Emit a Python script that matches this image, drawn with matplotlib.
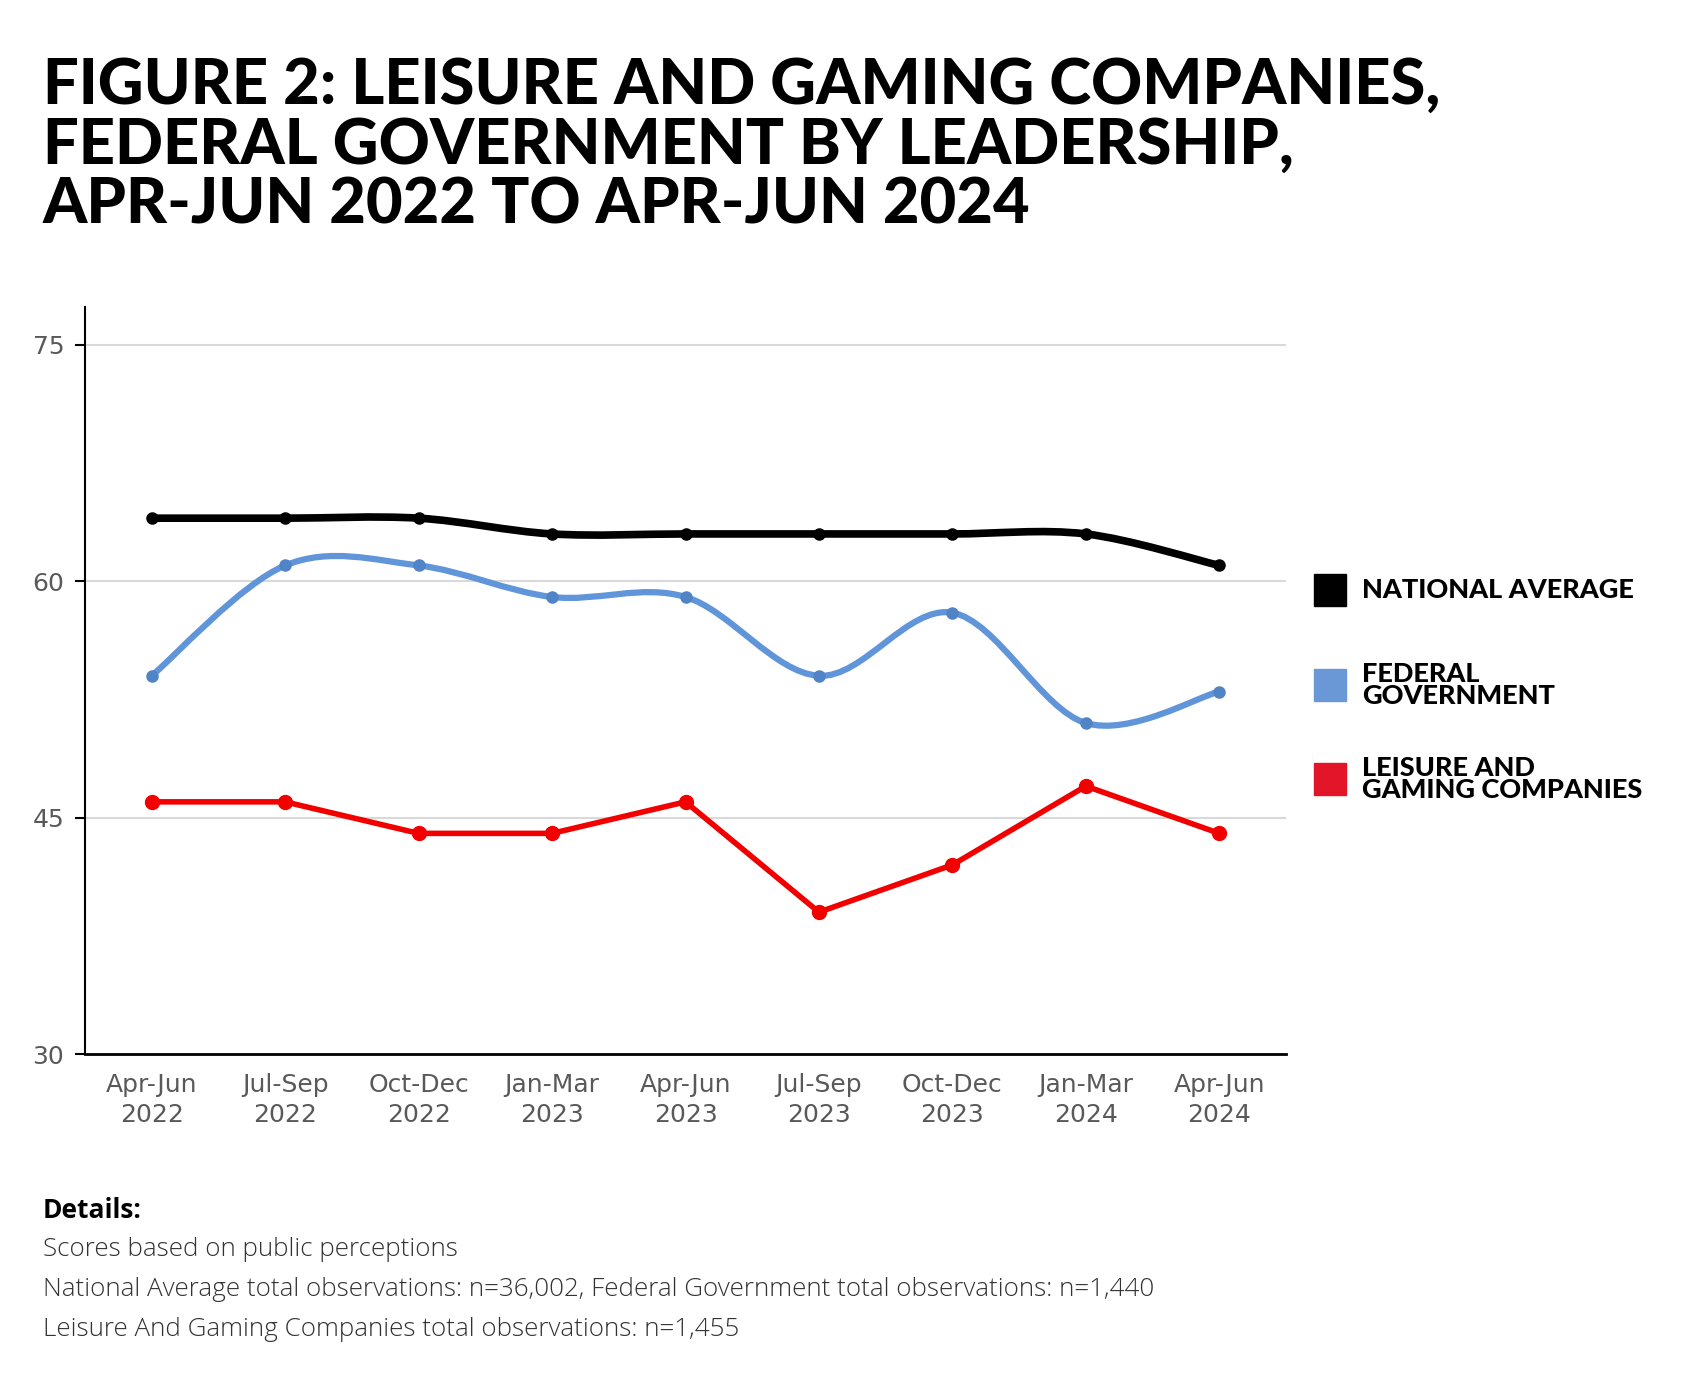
import numpy as np
import matplotlib
matplotlib.use('Agg')
from matplotlib import pyplot as plt
from matplotlib.path import Path
from matplotlib.patches import PathPatch

# data
periods = ['Apr-Jun\n2022', 'Jul-Sep\n2022', 'Oct-Dec\n2022', 'Jan-Mar\n2023', 'Apr-Jun\n2023',
           'Jul-Sep\n2023', 'Oct-Dec\n2023', 'Jan-Mar\n2024', 'Apr-Jun\n2024']
national = [64, 64, 64, 63, 63, 63, 63, 63, 61]
federal = [54, 61, 61, 59, 59, 54, 58, 51, 53]
leisure = [46, 46, 44, 44, 46, 39, 42, 47, 44]

y_ticks = [30, 45, 60, 75]
title_lines = ['FIGURE 2: LEISURE AND GAMING COMPANIES,',
               'FEDERAL GOVERNMENT BY LEADERSHIP,',
               'APR-JUN 2022 TO APR-JUN 2024']
legend_labels = ['NATIONAL AVERAGE', 'FEDERAL\nGOVERNMENT', 'LEISURE AND\nGAMING COMPANIES']
details = ['Scores based on public perceptions',
           'National Average total observations: n=36,002, Federal Government total observations: n=1,440',
           'Leisure And Gaming Companies total observations: n=1,455']

c_black = '#000000'
c_blue = '#6095D9'
c_blue_dot = '#5084C6'
c_red = '#F20000'

W, H = 1701, 1387
fig = plt.figure(figsize=(W / 100, H / 100), dpi=100)


def px(x, y):
    # pixel coords (top-left origin) -> figure fraction
    return x / W, 1 - y / H


def smooth_path(xs, ys):
    # catmull-rom style smoothing, as cubic bezier segments
    n = len(xs)
    pts = np.column_stack([xs, ys]).astype(float)
    verts = [pts[0]]
    codes = [Path.MOVETO]
    for i in range(n - 1):
        p0 = pts[max(i - 1, 0)]
        p1 = pts[i]
        p2 = pts[i + 1]
        p3 = pts[min(i + 2, n - 1)]
        c1 = p1 + (p2 - p0) / 6
        c2 = p2 - (p3 - p1) / 6
        verts += [c1, c2, p2]
        codes += [Path.CURVE4] * 3
    return Path(verts, codes)


left, right, top, bottom = 85, 1286, 307, 1054
ax = fig.add_axes([left / W, 1 - bottom / H, (right - left) / W, (bottom - top) / H])
x = np.arange(len(periods))

ax.add_patch(PathPatch(smooth_path(x, national), fc='none', ec=c_black, lw=5.5, capstyle='round', zorder=3))
ax.plot(x, national, 'o', color=c_black, ms=8, zorder=4)
ax.add_patch(PathPatch(smooth_path(x, federal), fc='none', ec=c_blue, lw=4.5, capstyle='round', zorder=3))
ax.plot(x, federal, 'o', color=c_blue_dot, ms=8, zorder=4)
ax.plot(x, leisure, '-o', color=c_red, lw=4, ms=10, zorder=3)

ax.set_xlim(-0.5, len(periods) - 0.5)
ax.set_ylim(30, 77.4)
ax.set_yticks(y_ticks)
ax.set_xticks(x)
ax.set_xticklabels(periods, linespacing=1.3)
for t in y_ticks[1:]:
    ax.axhline(t, color='#D9D9D9', lw=1.5, zorder=1)
for s in ['top', 'right']:
    ax.spines[s].set_visible(False)
ax.spines['left'].set_linewidth(1.5)
ax.spines['bottom'].set_linewidth(2)
ax.tick_params(axis='y', length=7, width=1.5, pad=8, labelsize=18, labelcolor='#595959')
ax.tick_params(axis='x', length=0, pad=14, labelsize=18, labelcolor='#595959')
for lab in ax.get_xticklabels() + ax.get_yticklabels():
    lab.set_fontfamily('DejaVu Sans')

# title
for i, line in enumerate(title_lines):
    fig.text(*px(43, 57 + i * 60), line, fontsize=45.5, fontweight='black', family='Lato',
             va='top', ha='left', color='black')

# legend
leg_colors = ['#000000', '#6A98D6', '#E31528']
leg_y = [590, 685, 779]
for lbl, col, yy in zip(legend_labels, leg_colors, leg_y):
    fig.patches.append(plt.Rectangle(px(1314, yy + 16), 32 / W, 32 / H, transform=fig.transFigure,
                                     color=col, figure=fig))
    fig.text(*px(1362, yy), lbl, fontsize=19.5, fontweight='black', family='Lato',
             va='center', ha='left', linespacing=0.92)

# details
fig.text(*px(43, 1210), 'Details:', fontsize=19, fontweight='bold', family='Open Sans', va='center')
for i, line in enumerate(details):
    fig.text(*px(43, 1250 + i * 39.5), line, fontsize=18.7, family='Open Sans', va='center',
             color='#333333', fontweight='light')

fig.savefig('out.png', dpi=100)
